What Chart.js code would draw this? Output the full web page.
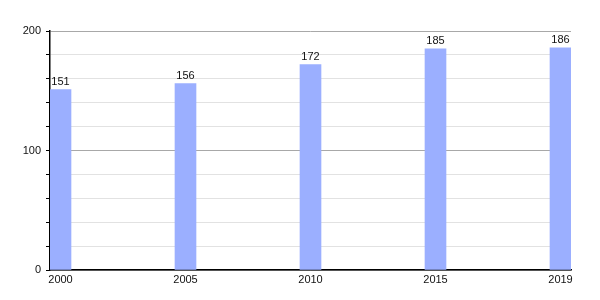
<!DOCTYPE html>
<html>
<head>
<meta charset="utf-8">
<script src="https://cdn.jsdelivr.net/npm/chart.js@4"></script>
<style>
html,body{margin:0;padding:0;background:#fff;}
#wrap{width:600px;height:300px;}
</style>
</head>
<body>
<div id="wrap"><canvas id="c" width="600" height="300"></canvas></div>
<script>
const years = ['2000', '2005', '2010', '2015', '2019'];
const values = [151, 156, 172, 185, 186];
const yTickLabels = [0, 100, 200];

const FONT = '"Liberation Sans", Arial, sans-serif';

const valueLabels = {
  id: 'valueLabels',
  afterDatasetsDraw(chart) {
    const ctx = chart.ctx;
    const meta = chart.getDatasetMeta(0);
    ctx.save();
    ctx.font = '11px ' + FONT;
    ctx.fillStyle = '#111';
    ctx.textAlign = 'center';
    ctx.textBaseline = 'bottom';
    meta.data.forEach((el, i) => {
      ctx.fillText(String(values[i]), el.x, el.y - 2);
    });
    ctx.restore();
  }
};

new Chart(document.getElementById('c'), {
  type: 'bar',
  data: {
    datasets: [{
      data: years.map((y, i) => ({ x: i, y: values[i] })),
      backgroundColor: 'rgb(155,175,255)',
      borderWidth: 0,
      barThickness: 21
    }]
  },
  options: {
    responsive: false,
    animation: false,
    devicePixelRatio: 1,
    layout: { padding: { top: 31, right: 29, bottom: 8, left: 0 } },
    plugins: { legend: { display: false }, tooltip: { enabled: false } },
    scales: {
      x: {
        type: 'linear',
        offset: false,
        min: -0.084,
        max: 4.084,
        afterBuildTicks: (axis) => { axis.ticks = years.map((_, i) => ({ value: i })); },
        afterFit: (axis) => { axis.height = 22; },
        grid: { display: false, drawTicks: false },
        border: { display: true, color: '#000', width: 1.5 },
        ticks: {
          autoSkip: false,
          maxRotation: 0,
          padding: 3,
          color: '#111',
          font: { family: FONT, size: 11 },
          callback: (v) => years[v]
        }
      },
      y: {
        min: 0,
        max: 200,
        afterFit: (axis) => { axis.width = 50; },
        ticks: {
          stepSize: 20,
          padding: 5,
          color: '#111',
          font: { family: FONT, size: 11 },
          callback: (v) => yTickLabels.includes(v) ? String(v) : ''
        },
        grid: {
          color: (c) => (c.tick && c.tick.value % 100 === 0) ? '#a8a8a8' : '#e2e2e2',
          tickColor: '#000',
          tickLength: 4,
          drawTicks: true
        },
        border: { display: true, color: '#000', width: 1.5 }
      }
    }
  },
  plugins: [valueLabels]
});
</script>
</body>
</html>
